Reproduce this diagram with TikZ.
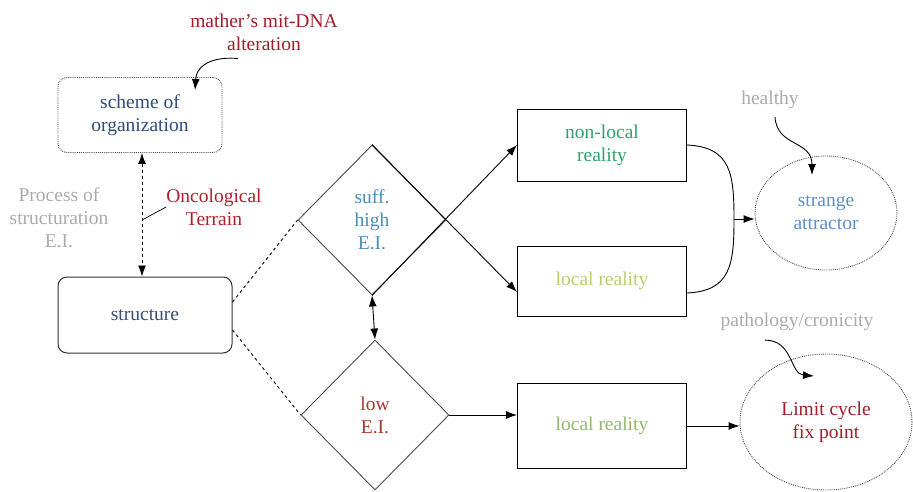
\documentclass[tikz,border=0pt]{standalone}
\usepackage{fontspec}
\setmainfont{Liberation Serif}
\usepackage{tikz}
\usetikzlibrary{arrows.meta,calc,shapes.geometric}
\definecolor{schemeblue}{HTML}{2F4A7C}
\definecolor{structgray}{HTML}{3B4F6E}
\definecolor{paletext}{HTML}{ABABAB}
\definecolor{oncored}{HTML}{B0202E}
\definecolor{darkred}{HTML}{A01E2A}
\definecolor{highblue}{HTML}{4A8DB5}
\definecolor{lowred}{HTML}{A33A2A}
\definecolor{nonlocgreen}{HTML}{2FA36B}
\definecolor{locyellow}{HTML}{B9CF6E}
\definecolor{locgreen}{HTML}{92B86C}
\definecolor{strangeblue}{HTML}{5D8FC9}

\begin{document}
\begin{tikzpicture}[x=1pt,y=-1pt,
  every node/.style={font=\fontsize{19.5}{23}\selectfont,align=center,inner sep=0pt},
  box/.style={draw,line width=1pt,minimum width=169pt},
  rbox/.style={draw=black!80,line width=1pt,rounded corners=9pt},
  dotbox/.style={draw=black!70,densely dotted,line width=0.9pt},
  rhomb/.style={diamond,draw=black!70,line width=0.9pt,minimum width=148pt,minimum height=150pt},
  conn/.style={line width=0.9pt,-{Latex[length=11pt,width=8pt]}},
  dconn/.style={line width=0.9pt,{Latex[length=11pt,width=8pt]}-{Latex[length=11pt,width=8pt]}}]
\useasboundingbox (0,0) rectangle (913,491);

\node[dotbox,rounded corners=9pt,minimum width=164pt,minimum height=75pt,text=schemeblue] (scheme) at (140,115) {scheme of\\organization};
\node[rbox,minimum width=174pt,minimum height=76pt,text=structgray] (structure) at (145,315) {structure};
\node[rhomb,text=highblue] (high) at (372,220) {suff.\\high\\E.I.};
\node[rhomb,text=lowred] (low) at (375,415) {low\\E.I.};
\node[box,minimum height=72pt,text=nonlocgreen] (nonlocal) at (602,145) {non-local\\reality};
\node[box,minimum height=70pt,text=locyellow] (localA) at (602,281) {local reality};
\node[box,minimum height=85pt,text=locgreen] (localB) at (602,426) {local reality};
\node[ellipse,dotbox,minimum width=142pt,minimum height=114pt,text=strangeblue] (strange) at (826,213) {strange\\attractor};
\node[ellipse,dotbox,minimum width=172pt,minimum height=136pt,text=darkred] (limit) at (826,422) {Limit cycle\\fix point};

\node[text=darkred] (mather) at (264,32) {mather’s mit-DNA\\alteration};
\node[text=paletext] (process) at (59,218) {Process of\\structuration\\E.I.};
\node[text=oncored] (onco) at (214,207) {Oncological\\Terrain};
\node[text=paletext] (healthy) at (770,100) {healthy};
\node[text=paletext] (patho) at (797,322) {pathology/cronicity};

\coordinate (tick) at (142,220);
\coordinate (join) at (734,219);
\coordinate (mTip) at (195,90);
\coordinate (hTip) at (812,175);
\coordinate (pTip) at (814,376);

\draw[dconn,dashed] (scheme.south -| tick) -- (structure.north -| tick);
\draw[line width=0.7pt] (tick) -- (onco.west);
\draw[line width=0.9pt,dashed] ([yshift=13pt]structure.east) -- (high.west);
\draw[line width=0.9pt,dashed] ([yshift=-15pt]structure.east) -- (low.west);
\draw[conn] (high.south) -- (nonlocal.west);
\draw[conn] (high.north) -- ([yshift=-11pt]localA.west);
\draw[dconn] (high.south) -- (low.north);
\draw[conn] (low.east) -- (low.east -| localB.west);
\draw[conn] (localB.east) -- (localB.east -| limit.west);
\draw[line width=0.9pt] (nonlocal.east) .. controls +(44,2) and +(0,-45) .. (join) .. controls +(0,45) and +(44,-2) .. ([yshift=-12pt]localA.east);
\draw[conn] (join) -- (join -| strange.west);
\draw[conn] ([shift={(-26,8)}]mather.south) .. controls +(-20,-2) and +(2,-28) .. (mTip);
\draw[conn] ([shift={(5,8)}]healthy.south) .. controls +(2,30) and +(0,-35) .. (hTip);
\draw[conn] ([shift={(-32,9)}]patho.south) .. controls +(28,0) and +(-24,-2) .. (pTip);
\end{tikzpicture}
\end{document}
